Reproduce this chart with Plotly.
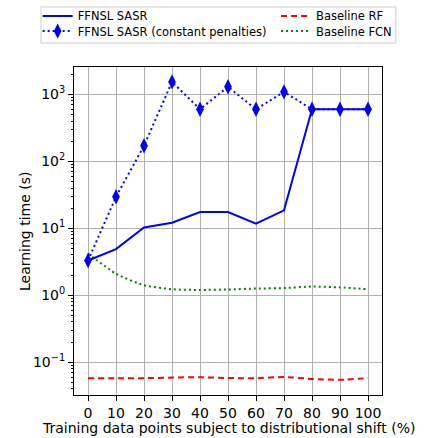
import plotly.graph_objects as go

# Share of training points under distributional shift (%)
shift_pct = [0, 10, 20, 30, 40, 50, 60, 70, 80, 90, 100]

# Learning time in seconds for each method
ffnsl_sasr = [3.3, 4.9, 10.3, 12.1, 17.5, 17.5, 11.7, 18.6, 600, 600, 600]
ffnsl_sasr_const = [3.3, 29.6, 171, 1540, 600, 1300, 600, 1093, 600, 600, 600]
baseline_rf = [0.0577, 0.0577, 0.0577, 0.0590, 0.0597, 0.0580, 0.0577, 0.0600, 0.0563, 0.0545, 0.0580]
baseline_fcn = [4.2, 2.1, 1.41, 1.23, 1.20, 1.22, 1.26, 1.28, 1.35, 1.31, 1.23]

x_ticks = [0, 10, 20, 30, 40, 50, 60, 70, 80, 90, 100]
y_ticks = [0.1, 1, 10, 100, 1000]
y_tick_text = ["10<sup>−1</sup>", "10<sup>0</sup>", "10<sup>1</sup>", "10<sup>2</sup>", "10<sup>3</sup>"]

x_title = "Training data points subject to distributional shift (%)"
y_title = "Learning time (s)"

FONT = "DejaVu Sans"

fig = go.Figure()

fig.add_trace(go.Scatter(
    x=shift_pct, y=baseline_rf, name="Baseline RF", mode="lines",
    line=dict(color="#ff0000", width=2, dash="6px,4px", shape="spline", smoothing=0.6),
    legend="legend3", showlegend=True,
))
fig.add_trace(go.Scatter(
    x=shift_pct, y=baseline_fcn, name="Baseline FCN", mode="lines",
    line=dict(color="#008000", width=2, dash="2px,3px", shape="spline", smoothing=0.6),
    legend="legend4", showlegend=True,
))
fig.add_trace(go.Scatter(
    x=shift_pct, y=ffnsl_sasr_const, name="FFNSL SASR (constant penalties)",
    mode="lines+markers",
    line=dict(color="#0000ff", width=2, dash="2px,3px"),
    marker=dict(symbol="diamond-tall", size=11, color="#0000ff"),
    legend="legend2", showlegend=True,
))
fig.add_trace(go.Scatter(
    x=shift_pct, y=ffnsl_sasr, name="FFNSL SASR", mode="lines",
    line=dict(color="#0000ff", width=2),
    legend="legend", showlegend=True,
))

axis_common = dict(
    showline=True, linecolor="black", linewidth=1, mirror=True,
    ticks="outside", ticklen=5, tickcolor="black",
    showgrid=True, gridcolor="#b0b0b0", gridwidth=1,
    zeroline=False, automargin=False,
    tickfont=dict(family=FONT, size=14, color="black"),
)

# One legend per entry, laid out as a 2x2 grid above the axes
legend_common = dict(
    orientation="v", yanchor="middle", xanchor="left",
    xref="container", yref="container",
    bgcolor="rgba(0,0,0,0)", borderwidth=0,
    font=dict(family=FONT, size=11.5), tracegroupgap=0,
    itemwidth=30,
)
col1_x, col2_x = 0.088, 0.645
row1_y, row2_y = 0.9635, 0.929

fig.update_layout(
    width=428, height=438,
    showlegend=True,
    margin=dict(l=74, r=46, t=67, b=43, autoexpand=False),
    paper_bgcolor="white", plot_bgcolor="white",
    font=dict(family=FONT, color="black"),
    xaxis=dict(**axis_common, range=[-5, 105], tickvals=x_ticks),
    yaxis=dict(
        **axis_common,
        type="log", range=[-1.49, 3.41], tickvals=y_ticks, ticktext=y_tick_text,
        minor=dict(ticks="outside", ticklen=2.5, tickcolor="black", showgrid=False, dtick="D1"),
    ),
    legend=dict(**legend_common, x=col1_x, y=row1_y),
    legend2=dict(**legend_common, x=col1_x, y=row2_y),
    legend3=dict(**legend_common, x=col2_x, y=row1_y),
    legend4=dict(**legend_common, x=col2_x, y=row2_y),
    shapes=[dict(
        type="rect", xref="paper", yref="paper",
        x0=-0.107, x1=1.045, y0=1.073, y1=1.183,
        line=dict(color="#cccccc", width=1), fillcolor="rgba(0,0,0,0)",
        layer="above",
    )],
    annotations=[
        dict(text=x_title, xref="paper", yref="paper", x=0.5, y=-0.1,
             xanchor="center", yanchor="middle", showarrow=False,
             font=dict(family=FONT, size=14, color="black")),
        dict(text=y_title, xref="paper", yref="paper", x=-0.159, y=0.5,
             xanchor="center", yanchor="middle", showarrow=False, textangle=-90,
             font=dict(family=FONT, size=14, color="black")),
    ],
)

fig.write_html("out.html")
